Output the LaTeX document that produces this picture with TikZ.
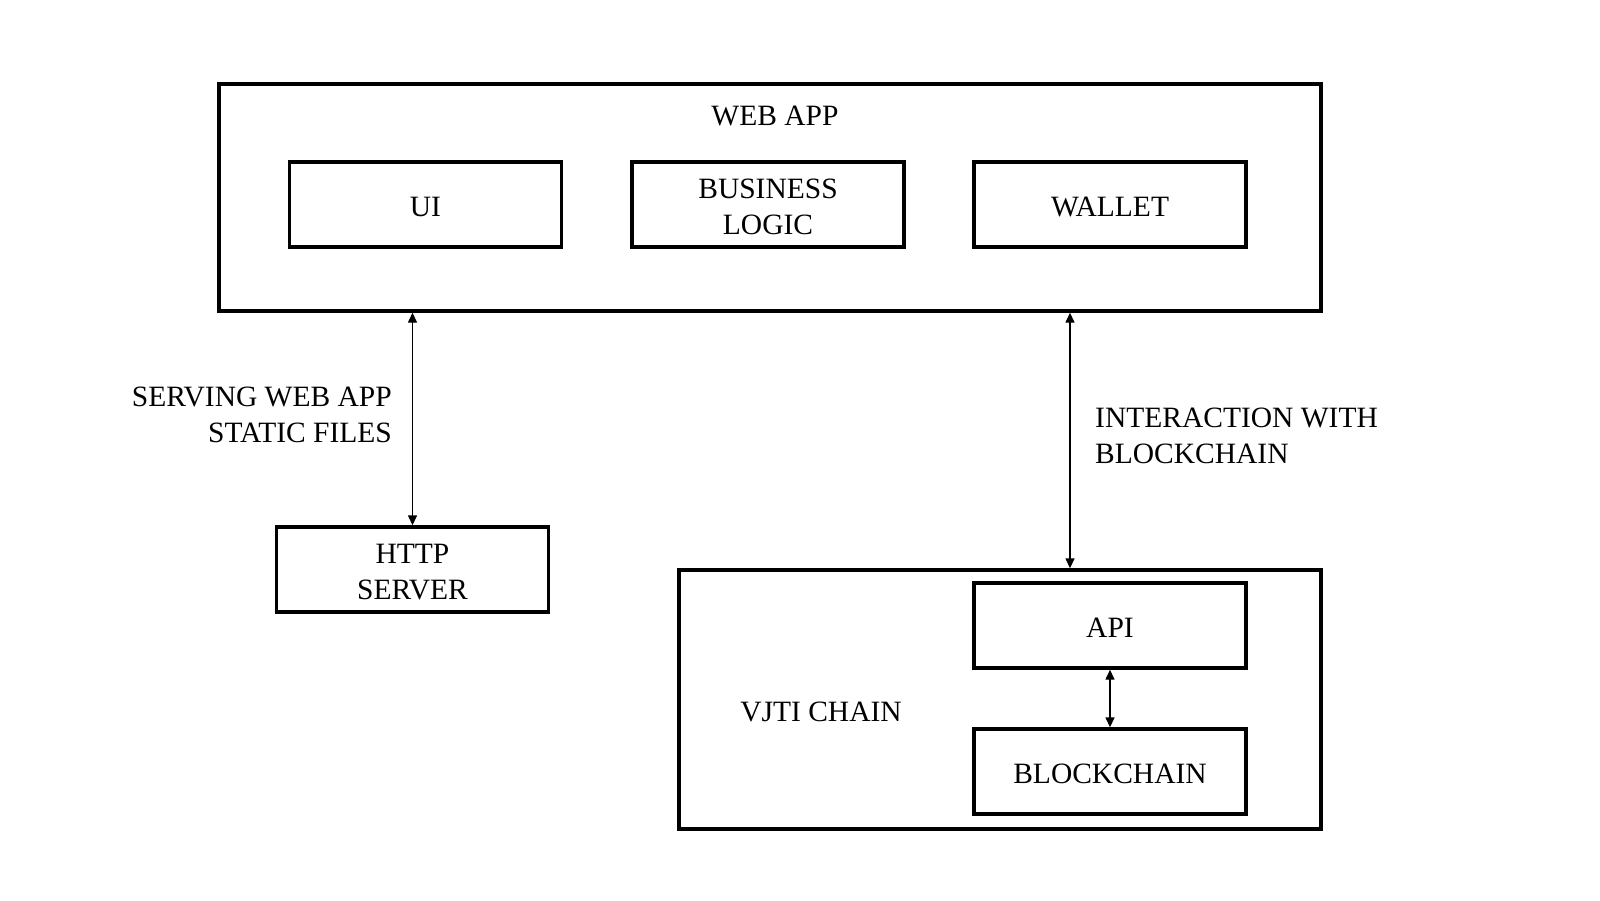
\documentclass[tikz,border=0pt]{standalone}
\usepackage{fontspec}
\setmainfont{Liberation Serif}
\usetikzlibrary{arrows.meta}
\begin{document}
\begin{tikzpicture}[x=1pt,y=-1pt,
  every node/.style={font=\fontsize{29.5}{36}\selectfont, inner sep=0pt, align=center},
  box/.style={draw=black, line width=3.4pt, rectangle, minimum width=272pt, minimum height=85pt},
  bigbox/.style={draw=black, line width=3.4pt, rectangle},
  lbl/.style={draw=none, yshift=-2.5pt},
  biarrow/.style={line width=1.4pt, {Triangle[length=10pt,width=9pt]}-{Triangle[length=10pt,width=9pt]}}
]
\useasboundingbox[fill=white] (0,0) rectangle (1600,900);
% outer boxes
\node[bigbox, minimum width=1102pt, minimum height=227pt] (webapp) at (770,197.5) {};
\node[lbl] (webapptxt) at (775,113) {WEB APP};
\node[bigbox, minimum width=642pt, minimum height=259pt] (vjti) at (1000,699.5) {};
\node[lbl] (vjtitxt) at (821,709) {VJTI CHAIN};
% inner boxes
\node[box, label={[lbl]center:UI}] (ui) at (425.5,204.5) {};
\node[box, label={[lbl]center:{BUSINESS\\LOGIC}}] (biz) at (768,204.5) {};
\node[box, label={[lbl]center:WALLET}] (wallet) at (1110,204.5) {};
\node[box, label={[lbl]center:{HTTP\\SERVER}}] (http) at (412.5,569.5) {};
\node[box, label={[lbl]center:API}] (api) at (1110,625.5) {};
\node[box, label={[lbl]center:BLOCKCHAIN}] (chain) at (1110,771.5) {};
% labels
\node[lbl, anchor=east, align=right] (servtxt) at (392,412.5) {SERVING WEB APP\\STATIC FILES};
\node[lbl, anchor=west, align=left] (intxt) at (1095,433) {INTERACTION WITH\\BLOCKCHAIN};
% connectors
\coordinate (rx) at (1070,0);
\draw[biarrow] (http.north |- webapp.south) -- (http.north);
\draw[biarrow] (rx |- webapp.south) -- (rx |- vjti.north);
\draw[biarrow] (api.south) -- (chain.north);
\end{tikzpicture}
\end{document}
